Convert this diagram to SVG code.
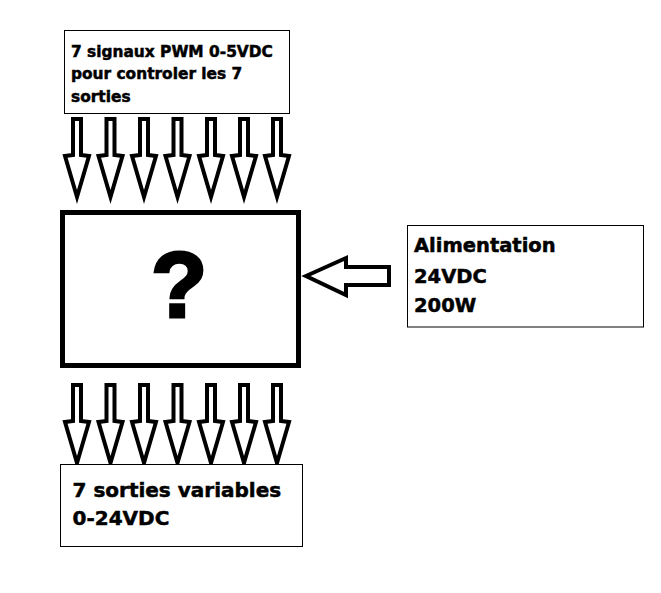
<svg xmlns="http://www.w3.org/2000/svg" width="661" height="593" viewBox="0 0 661 593">
<style>
.box{fill:#fff;stroke:#000;stroke-width:1}
.t{font-family:"DejaVu Sans",sans-serif;font-weight:bold;fill:#000;stroke:#000;stroke-width:0.5}
.arr{fill:#fff;stroke:#000;stroke-width:4;stroke-linejoin:miter}
</style>
<defs>
<polygon id="down" points="-4,0 4,0 4,36 12,37 0,78 -12,37 -4,36"/>
</defs>
<rect width="661" height="593" fill="#fff"/>
<g id="connectors">
<use href="#down" class="arr" x="77" y="119"/>
<use href="#down" class="arr" x="110.5" y="119"/>
<use href="#down" class="arr" x="144" y="119"/>
<use href="#down" class="arr" x="177.5" y="119"/>
<use href="#down" class="arr" x="211" y="119"/>
<use href="#down" class="arr" x="244" y="119"/>
<use href="#down" class="arr" x="277" y="119"/>
<use href="#down" class="arr" x="77" y="385"/>
<use href="#down" class="arr" x="110.5" y="385"/>
<use href="#down" class="arr" x="144" y="385"/>
<use href="#down" class="arr" x="177.5" y="385"/>
<use href="#down" class="arr" x="211" y="385"/>
<use href="#down" class="arr" x="244" y="385"/>
<use href="#down" class="arr" x="277" y="385"/>
<polygon class="arr" points="306,276 346,258 346,267 389,267 389,285 346,285 346,295"/>
</g>
<g id="pwm">
<rect class="box" x="64.5" y="30.5" width="225" height="83"/>
<text class="t" font-size="15.4" x="71" y="57">7 signaux PWM 0-5VDC</text>
<text class="t" font-size="15.4" x="71" y="79">pour controler les 7</text>
<text class="t" font-size="15.4" x="71" y="101.5">sorties</text>
</g>
<g id="main">
<rect x="62.5" y="212.5" width="236" height="153" fill="#fff" stroke="#000" stroke-width="5"/>
<text x="179" y="317" font-family="Liberation Sans, Arial, sans-serif" font-weight="bold" font-size="92" text-anchor="middle" stroke="#000" stroke-width="3">?</text>
</g>
<g id="alim">
<rect class="box" x="407.5" y="225.5" width="236" height="101.5"/>
<text class="t" font-size="19.5" x="414" y="251.5">Alimentation</text>
<text class="t" font-size="19.5" x="414" y="282.5">24VDC</text>
<text class="t" font-size="19.5" x="414" y="311.5">200W</text>
</g>
<g id="sorties">
<rect class="box" x="60.5" y="464.5" width="242" height="82"/>
<text class="t" font-size="20" x="72.5" y="497">7 sorties variables</text>
<text class="t" font-size="20" x="72.5" y="525">0-24VDC</text>
</g>
</svg>
